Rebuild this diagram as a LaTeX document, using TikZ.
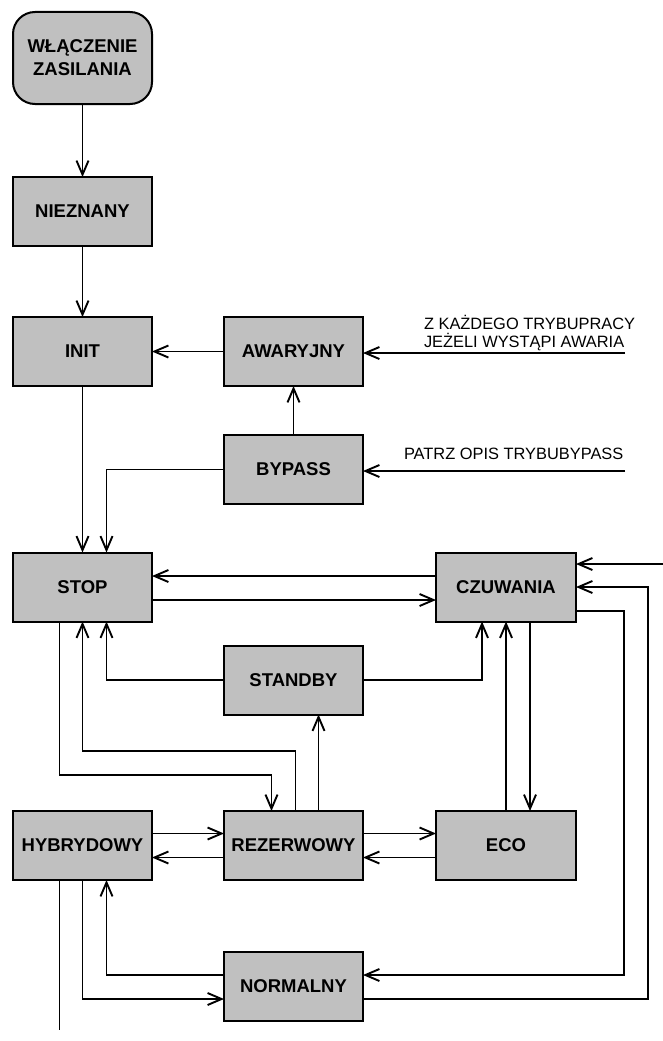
\documentclass[tikz,border=0pt]{standalone}
\usepackage{fontspec}
\setmainfont{Liberation Sans}
\usetikzlibrary{arrows.meta}
\definecolor{boxgray}{HTML}{C0C0C0}
\begin{document}
\begin{tikzpicture}[x=1pt,y=-1pt,
  box/.style={draw, line width=2pt, fill=boxgray, minimum width=139pt, minimum height=69pt,
    inner sep=0pt, outer sep=0pt, align=center, font=\fontsize{18.5}{23}\selectfont\bfseries},
  conn/.style={line width=1.9pt},
  arr/.style={conn, -{Straight Barb[length=14pt,width=12pt]}},
  lbl/.style={inner sep=0pt, outer sep=0pt, font=\fontsize{16.4}{17.5}\selectfont}]
\useasboundingbox[fill=white] (0,0) rectangle (663,1041);
% nodes
\node[box, minimum height=92pt, rounded corners=22pt] (wl) at (82.5,58) {WŁĄCZENIE\\ZASILANIA};
\node[box] (niez) at (82.5,211.5) {NIEZNANY};
\node[box] (init) at (82.5,351.5) {INIT};
\node[box] (awar) at (293.5,351.5) {AWARYJNY};
\node[box] (bypass) at (293.5,469.5) {BYPASS};
\node[box] (stop) at (82.5,587) {STOP};
\node[box, minimum width=140pt] (czuw) at (506,587) {CZUWANIA};
\node[box] (standby) at (293.5,680) {STANDBY};
\node[box] (hyb) at (82.5,845.5) {HYBRYDOWY};
\node[box] (rez) at (293.5,845.5) {REZERWOWY};
\node[box, minimum width=140pt] (eco) at (506,845.5) {ECO};
\node[box] (norm) at (293.5,986) {NORMALNY};
% labels
\node[lbl, anchor=west, align=left] (t1) at (424,333) {Z KAŻDEGO TRYBUPRACY\\JEŻELI WYSTĄPI AWARIA};
\node[lbl, anchor=west] (t2) at (404,454) {PATRZ OPIS TRYBUBYPASS};
% free ends
\coordinate (inA) at (625,353);
\coordinate (inB) at (625,471);
\coordinate (inC) at (663,564);
\coordinate (outH) at (59.5,1030);
% connectors
\draw[arr] (wl.south) -- (niez.north);
\draw[arr] (niez.south) -- (init.north);
\draw[arr] (awar.west) -- (init.east);
\draw[arr] (bypass.north) -- (awar.south);
\draw[arr] (inA) -- (inA -| awar.east);
\draw[arr] (inB) -- (inB -| bypass.east);
\draw[arr] (init.south) -- (stop.north);
\draw[arr] (bypass.west) -| ([xshift=24pt]stop.north);
\draw[arr] ([yshift=11pt]czuw.west) -- ([yshift=11pt]stop.east);
\draw[arr] ([yshift=-13pt]stop.east) -- ([yshift=-13pt]czuw.west);
\draw[arr] (inC) -- (inC -| czuw.east);
\draw[arr] ([yshift=-13pt]norm.east) -| ([xshift=72pt]czuw.east) -- (czuw.east);
\draw[arr] ([yshift=-24pt]czuw.east) -| ([xshift=261pt,yshift=11pt]norm.east) -- ([yshift=11pt]norm.east);
\draw[arr] ([xshift=24pt]czuw.south) -- ([xshift=24pt]eco.north);
\draw[arr] (eco.north) -- (czuw.south);
\draw[arr] (standby.east) -| ([xshift=-24pt]czuw.south);
\draw[arr] (standby.west) -| ([xshift=24pt]stop.south);
\draw[arr] ([xshift=-23pt]stop.south) |- ([xshift=-22pt,yshift=36pt]rez.north) -- ([xshift=-22pt]rez.north);
\draw[arr] ([xshift=2pt]rez.north) -- ([xshift=2pt,yshift=60pt]rez.north) -| (stop.south);
\draw[arr] ([xshift=25pt]rez.north) -- ([xshift=25pt]standby.south);
\draw[arr] ([yshift=12pt]hyb.east) -- ([yshift=12pt]rez.west);
\draw[arr] ([yshift=-12pt]rez.west) -- ([yshift=-12pt]hyb.east);
\draw[arr] ([yshift=12pt]rez.east) -- ([yshift=12pt]eco.west);
\draw[arr] ([yshift=-12pt]eco.west) -- ([yshift=-12pt]rez.east);
\draw[conn] ([xshift=-23pt]hyb.south) -- (outH);
\draw[arr] (hyb.south) |- ([yshift=-13pt]norm.west);
\draw[arr] ([yshift=11pt]norm.west) -| ([xshift=24pt]hyb.south);
\end{tikzpicture}
\end{document}
